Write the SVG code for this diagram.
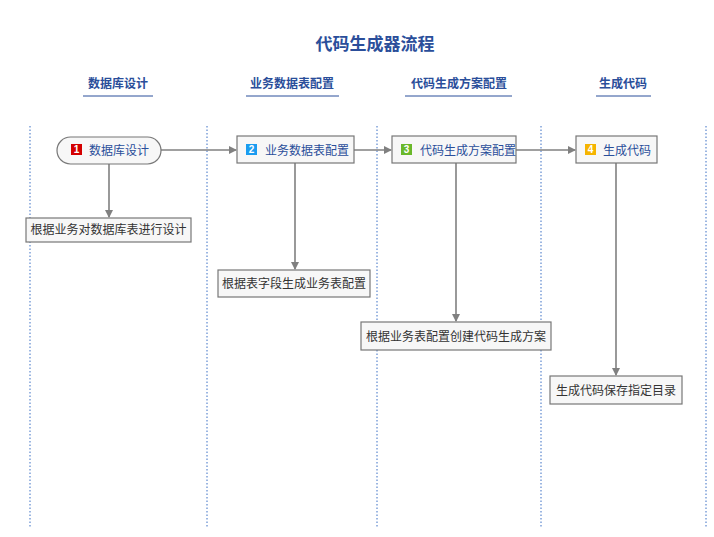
<svg xmlns="http://www.w3.org/2000/svg" width="714" height="537" viewBox="0 0 714 537">
<style>
.lane{stroke:#3a6fc4;stroke-width:1;stroke-dasharray:1.5,2;fill:none}
.h{font:bold 12px "Noto Sans CJK SC",sans-serif;fill:#2a4e9a;text-anchor:middle}
.ul{stroke:#2a4e9a;stroke-width:1}
.n{fill:#f7f7f7;stroke:#777;stroke-width:1.2}
.nt{font:12px "Noto Sans CJK SC",sans-serif;fill:#2a4e9a}
.st{font:12px "Noto Sans CJK SC",sans-serif;fill:#333;text-anchor:middle}
.c{stroke:#808080;stroke-width:1.6;fill:none;marker-end:url(#a)}
.b{font:bold 10px "Liberation Sans",sans-serif;fill:#fff;text-anchor:middle}
</style>
<defs><marker id="a" markerWidth="8" markerHeight="8" refX="7" refY="4" orient="auto" markerUnits="userSpaceOnUse"><path d="M0,0L8,4L0,8z" fill="#808080"/></marker></defs>
<rect width="714" height="537" fill="#fff"/>
<text x="375" y="50" style="font:bold 17px 'Noto Sans CJK SC',sans-serif;fill:#2a4e9a" text-anchor="middle">代码生成器流程</text>
<g id="lanes">
<line class="lane" x1="30" y1="126" x2="30" y2="527"/>
<line class="lane" x1="207" y1="126" x2="207" y2="527"/>
<line class="lane" x1="377" y1="126" x2="377" y2="527"/>
<line class="lane" x1="541" y1="126" x2="541" y2="527"/>
<line class="lane" x1="706" y1="126" x2="706" y2="527"/>
<text class="h" x="118" y="88">数据库设计</text><line class="ul" x1="83" y1="96" x2="153" y2="96"/>
<text class="h" x="292" y="88">业务数据表配置</text><line class="ul" x1="246" y1="96" x2="339" y2="96"/>
<text class="h" x="459" y="88">代码生成方案配置</text><line class="ul" x1="405" y1="96" x2="512" y2="96"/>
<text class="h" x="623" y="88">生成代码</text><line class="ul" x1="596" y1="96" x2="651" y2="96"/>
</g>
<g id="connectors">
<path class="c" d="M161,150H236"/>
<path class="c" d="M354,150H391"/>
<path class="c" d="M516,150H575"/>
<path class="c" d="M109,164V217"/>
<path class="c" d="M295,163V269"/>
<path class="c" d="M456,163V321"/>
<path class="c" d="M616,163V375"/>
</g>
<g id="n1"><rect class="n" x="57" y="137" width="104" height="27" rx="13.5"/><rect x="71" y="144" width="11" height="11" fill="#d40000"/><text class="b" x="76.5" y="153">1</text><text class="nt" x="89" y="155">数据库设计</text></g>
<g id="n2"><rect class="n" x="237" y="136" width="117" height="27"/><rect x="246" y="144" width="11" height="11" fill="#1a9cf0"/><text class="b" x="251.5" y="153">2</text><text class="nt" x="265" y="155">业务数据表配置</text></g>
<g id="n3"><rect class="n" x="392" y="136" width="124" height="27"/><rect x="401" y="144" width="11" height="11" fill="#6ab82a"/><text class="b" x="406.5" y="153">3</text><text class="nt" x="420" y="155">代码生成方案配置</text></g>
<g id="n4"><rect class="n" x="576" y="136" width="81" height="27"/><rect x="585" y="144" width="11" height="11" fill="#f5b400"/><text class="b" x="590.5" y="153">4</text><text class="nt" x="603" y="155">生成代码</text></g>
<g id="s1"><rect class="n" x="26" y="218" width="165" height="24"/><text class="st" x="108.5" y="234">根据业务对数据库表进行设计</text></g>
<g id="s2"><rect class="n" x="218" y="270" width="152" height="27"/><text class="st" x="294" y="288">根据表字段生成业务表配置</text></g>
<g id="s3"><rect class="n" x="361" y="322" width="190" height="28"/><text class="st" x="456" y="341">根据业务表配置创建代码生成方案</text></g>
<g id="s4"><rect class="n" x="550" y="376" width="132" height="28"/><text class="st" x="616" y="395">生成代码保存指定目录</text></g>
</svg>
